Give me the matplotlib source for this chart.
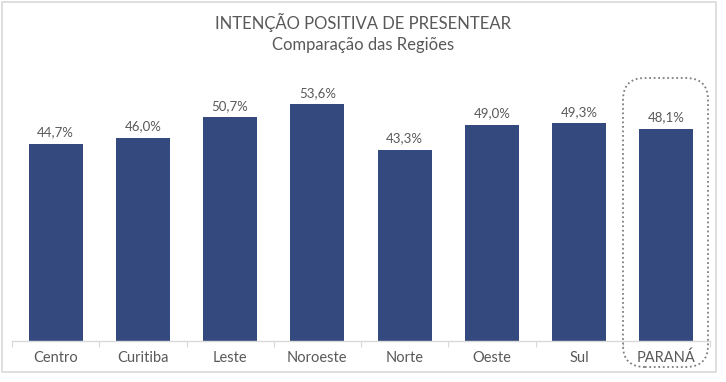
import matplotlib.pyplot as plt
from matplotlib.patches import FancyBboxPatch, Rectangle
import numpy as np

plt.rcParams['font.family'] = ['Lato', 'DejaVu Sans']

# data
regions = ['Centro', 'Curitiba', 'Leste', 'Noroeste', 'Norte', 'Oeste', 'Sul', 'PARANÁ']
values = [44.7, 46.0, 50.7, 53.6, 43.3, 49.0, 49.3, 48.1]
title = 'INTENÇÃO POSITIVA DE PRESENTEAR'
subtitle = 'Comparação das Regiões'

W, H = 726, 382
bar_color = '#344a7e'
text_gray = '#595959'

fig = plt.figure(figsize=(W / 100, H / 100), dpi=100)
fig.patch.set_facecolor('white')

# outer chart border
fig.patches.append(Rectangle((2 / W, 1 - 372 / H), 714 / W, 370 / H,
                             transform=fig.transFigure, fill=False,
                             edgecolor='#d9d9d9', lw=1.2))

ax = fig.add_axes([12 / W, 1 - 341 / H, 698 / W, 265 / H])
x = np.arange(len(regions))
ax.bar(x, values, width=0.62, color=bar_color)
ax.set_xlim(-0.5, len(regions) - 0.5)
ax.set_ylim(0, 60)

for xi, v in zip(x, values):
    ax.text(xi, v + 1.2, f'{v:.1f}%'.replace('.', ','), ha='center', va='bottom',
            fontsize=9.5, color=text_gray)

for s in ['top', 'right', 'left']:
    ax.spines[s].set_visible(False)
ax.spines['bottom'].set_color('#d9d9d9')
ax.spines['bottom'].set_linewidth(1)
ax.set_yticks([])
ax.set_xticks(np.arange(-0.5, len(regions)), minor=False)
ax.set_xticklabels([])
ax.tick_params(axis='x', length=4, color='#d9d9d9')
ax.set_xticks(x, minor=True)
ax.set_xticklabels(regions, minor=True, fontsize=10.5, color=text_gray)
ax.tick_params(axis='x', which='minor', length=0, pad=7)

fig.text(363 / W, 1 - 22 / H, title, ha='center', va='center', fontsize=12, color=text_gray)
fig.text(363 / W, 1 - 45 / H, subtitle, ha='center', va='center', fontsize=12, color=text_gray)

# dotted rounded box around PARANÁ
fig.patches.append(FancyBboxPatch((623 / W, 1 - 367 / H), 85 / W, 289 / H,
                                  boxstyle='round,pad=0,rounding_size=0.03',
                                  transform=fig.transFigure, fill=False,
                                  edgecolor='#7f7f7f', lw=1.3, linestyle=(0, (1, 1.5)),
                                  mutation_aspect=W / H))

fig.savefig('out.png', dpi=100)
